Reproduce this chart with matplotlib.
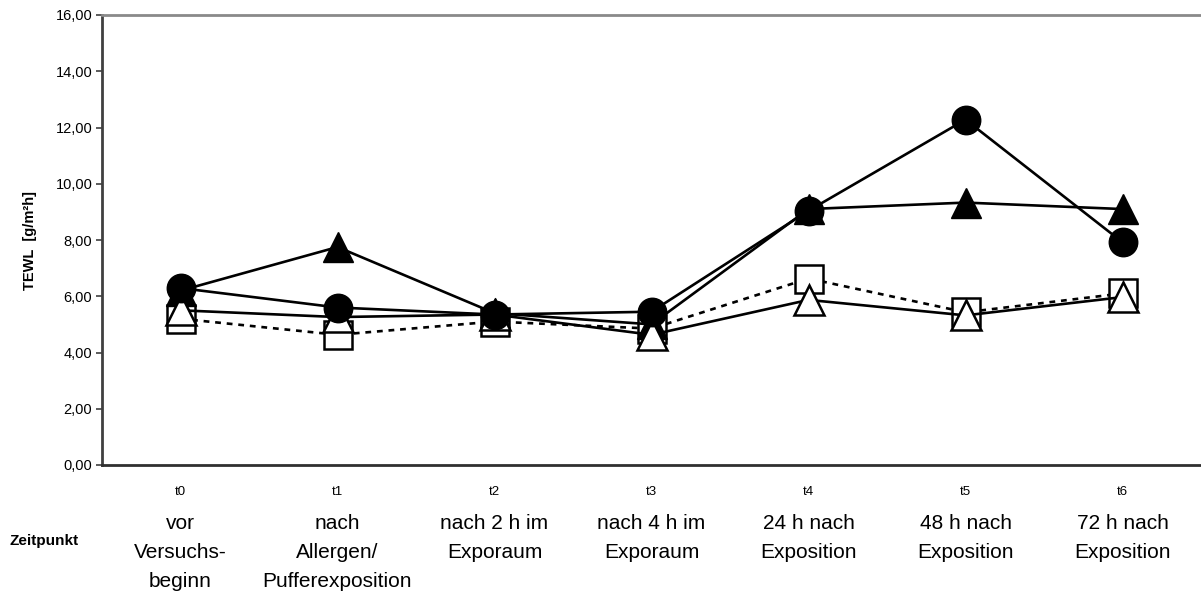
import matplotlib
matplotlib.use("Agg")
import matplotlib.pyplot as plt
from matplotlib.transforms import blended_transform_factory

plt.rcParams['font.family'] = ['Liberation Sans', 'DejaVu Sans']

zeitpunkte = ['t0', 't1', 't2', 't3', 't4', 't5', 't6']
beschreibung = ['vor\nVersuchs-\nbeginn', 'nach\nAllergen/\nPufferexposition',
                'nach 2 h im\nExporaum', 'nach 4 h im\nExporaum',
                '24 h nach\nExposition', '48 h nach\nExposition', '72 h nach\nExposition']
yticks = [0, 2, 4, 6, 8, 10, 12, 14, 16]

quadrat_offen = [5.2, 4.63, 5.1, 4.85, 6.63, 5.43, 6.1]
dreieck_voll = [6.2, 7.75, 5.4, 5.0, 9.1, 9.33, 9.1]
dreieck_offen = [5.5, 5.26, 5.35, 4.63, 5.87, 5.32, 5.97]
kreis_voll = [6.29, 5.6, 5.35, 5.45, 9.04, 12.28, 7.92]

fig = plt.figure(figsize=(12.01, 5.93), dpi=100)
ax = fig.add_axes([102/1201, 1-465/593, 1-102/1201, (465-15)/593])

x = list(range(len(zeitpunkte)))
ms = 20.5
lw = 1.9
ax.plot(x, quadrat_offen, ls=(0, (2.2, 2.2)), lw=lw, color='black', marker='s',
        ms=ms*0.95, mfc='white', mec='black', mew=1.8, zorder=3)
ax.plot(x, dreieck_voll, ls='-', lw=lw, color='black', marker='^',
        ms=ms*1.05, mfc='black', mec='black', zorder=4)
ax.plot(x, dreieck_offen, ls='-', lw=lw, color='black', marker='^',
        ms=ms*1.05, mfc='white', mec='black', mew=1.8, zorder=5)
ax.plot(x, kreis_voll, ls='-', lw=lw, color='black', marker='o',
        ms=ms, mfc='black', mec='black', zorder=6)

ax.set_xlim(-0.5, 6.5)
ax.set_ylim(0, 16)
ax.set_yticks(yticks)
ax.set_yticklabels(['%d,00' % v for v in yticks], fontsize=10.5)
ax.tick_params(axis='y', direction='out', length=4, width=1.2, color='#404040', pad=3)
ax.set_xticks(x)
ax.set_xticklabels(zeitpunkte, fontsize=9.5)
ax.tick_params(axis='x', length=0, pad=15)

ax.spines['top'].set_color('#8a8a8a')
ax.spines['top'].set_linewidth(2)
ax.spines['left'].set_color('#404040')
ax.spines['left'].set_linewidth(2)
ax.spines['bottom'].set_color('#303030')
ax.spines['bottom'].set_linewidth(2)
ax.spines['right'].set_visible(False)

ax.set_ylabel('TEWL  [g/m²h]', fontsize=10.5, fontweight='bold')
ax.yaxis.set_label_coords(-0.059, 0.5)

trans = blended_transform_factory(ax.transData, fig.transFigure)
for xi, txt in zip(x, beschreibung):
    ax.text(xi, 1-514/593, txt, transform=trans, ha='center', va='top',
            fontsize=15, linespacing=1.66, clip_on=False)

fig.text(9/1201, 1-541/593, 'Zeitpunkt', fontsize=11, fontweight='bold',
         ha='left', va='center')

fig.savefig('out.png', dpi=100)
